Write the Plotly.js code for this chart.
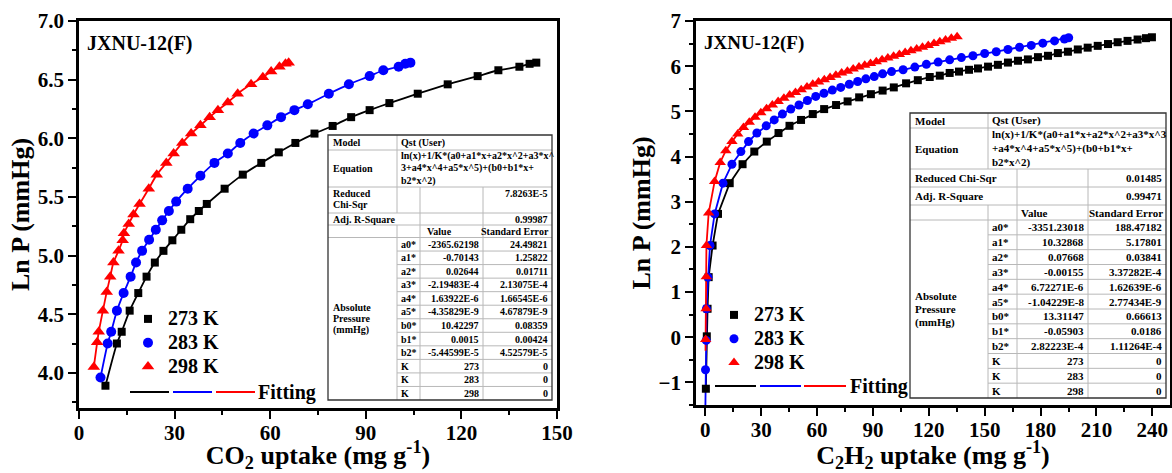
<!DOCTYPE html>
<html><head><meta charset="utf-8">
<script src="https://cdn.plot.ly/plotly-3.0.1.min.js"></script>
<style>html,body{margin:0;padding:0;background:#fff}</style>
</head><body><div id="chart" style="width:1172px;height:473px"></div>
<script>
const W = 1172, H = 473;
const FONT = 'Liberation Serif, Times New Roman, serif';

// ---------------- CO2 data (uptake mg/g, ln P) ----------------
const co2_273_x = [8.3,11.9,13.4,15.9,18.6,21.2,23.8,26.5,29.3,32.1,34.9,37.6,40.1,45.7,51.4,57.2,62.7,67.9,73.9,79.6,85.4,91.2,97.4,106.3,115.7,125.1,131.6,138.2,141.4,143.5];
const co2_273_y = [3.89,4.25,4.35,4.53,4.68,4.82,4.94,5.04,5.13,5.22,5.31,5.38,5.44,5.57,5.69,5.79,5.88,5.96,6.04,6.105,6.18,6.24,6.30,6.38,6.46,6.53,6.58,6.61,6.635,6.645];
const co2_283_x = [6.75,9.0,10.1,11.9,14.0,16.2,17.9,19.8,22.0,24.1,26.1,28.2,30.5,34.1,38.1,42.5,46.7,50.6,54.8,59.1,63.4,67.6,71.8,78.4,84.7,91.2,95.5,100.3,102.4,104.0];
const co2_283_y = [3.96,4.25,4.35,4.53,4.68,4.82,4.94,5.04,5.135,5.22,5.30,5.38,5.46,5.57,5.68,5.79,5.87,5.96,6.04,6.11,6.18,6.24,6.29,6.38,6.46,6.53,6.58,6.61,6.635,6.645];
const co2_298_x = [4.65,5.7,6.2,7.5,8.7,9.8,10.8,12.4,13.7,14.1,15.6,17.1,19.0,21.9,24.4,27.4,29.7,32.4,35.2,38.1,41.0,43.6,46.7,49.8,54.0,57.7,60.3,62.9,64.8,65.8];
const co2_298_y = [4.05,4.26,4.35,4.53,4.69,4.82,4.94,5.04,5.13,5.19,5.27,5.35,5.44,5.57,5.69,5.79,5.87,5.96,6.04,6.11,6.18,6.24,6.305,6.38,6.46,6.52,6.57,6.61,6.635,6.645];

// ---------------- C2H2 data ----------------
const c2h2_273_x = [0.3,0.8,1.2,1.8,3.9,6.8,13.1,20.0,26.3,33.0,39.3,45.2,51.4,57.7,63.8,70.2,76.4,82.6,88.9,95.2,101.2,107.8,114.1,120.5,125.9,131.2,136.2,141.6,146.4,151.8,157.1,162.5,167.9,173.2,178.6,184.0,189.3,194.7,200.0,205.3,210.7,216.2,221.4,226.7,232.1,236.6,239.8];
const c2h2_273_y = [-1.14,0.02,0.63,1.33,2.03,2.73,3.41,3.83,4.11,4.33,4.52,4.68,4.81,4.94,5.05,5.14,5.22,5.31,5.38,5.46,5.53,5.62,5.69,5.76,5.79,5.85,5.88,5.92,5.95,5.99,6.03,6.08,6.12,6.15,6.20,6.23,6.29,6.32,6.37,6.41,6.45,6.49,6.53,6.56,6.59,6.62,6.64];
const c2h2_283_x = [0.1,0.5,0.6,1.4,2.5,5.0,9.5,14.3,19.1,23.2,27.7,32.7,37.0,41.4,45.9,50.3,54.8,59.3,63.7,68.2,72.7,77.3,81.8,86.2,90.7,95.2,100.0,106.2,112.5,118.7,125.0,131.2,137.5,143.7,150.0,156.2,162.5,168.7,175.0,181.2,187.5,192.8,195.1];
const c2h2_283_y = [-0.72,-0.07,0.63,1.33,2.03,2.73,3.41,3.83,4.11,4.33,4.52,4.68,4.81,4.94,5.05,5.14,5.24,5.33,5.40,5.47,5.53,5.60,5.66,5.72,5.77,5.83,5.88,5.92,5.98,6.04,6.09,6.14,6.19,6.23,6.28,6.32,6.37,6.42,6.46,6.51,6.56,6.60,6.63];
const c2h2_298_x = [0.2,0.4,0.5,0.6,1.8,5.0,8.0,11.0,14.3,17.4,20.5,23.6,26.7,29.8,32.9,36.0,39.1,42.2,45.3,48.4,51.5,54.6,57.7,60.8,63.9,67.0,70.1,73.2,76.3,79.4,82.5,85.6,88.7,91.8,94.9,98.0,101.1,104.2,107.3,110.4,113.5,116.6,119.7,122.8,125.9,129.0,132.1,135.2];
const c2h2_298_y = [-0.05,0.63,1.34,2.03,2.75,3.45,3.87,4.13,4.33,4.50,4.64,4.76,4.87,4.97,5.06,5.14,5.22,5.29,5.36,5.42,5.48,5.54,5.60,5.65,5.70,5.75,5.80,5.85,5.89,5.94,5.98,6.02,6.06,6.10,6.14,6.18,6.22,6.26,6.30,6.34,6.38,6.42,6.46,6.50,6.54,6.58,6.62,6.65];
// fitted-curve start points (below first data point)
const c2h2_283_fitStart = [[0.05],[-1.5]];
const c2h2_298_fitStart = [[0.1],[-0.3]];

// ---------------- labels ----------------
const seriesNames = ['273 K','283 K','298 K'];
const seriesColors = ['#000000','#0000FF','#FF0000'];
const panelLabel = 'JXNU-12(F)';
const fitLabel = 'Fitting';

// ---------------- fit tables ----------------
const tableParams = ['a0*','a1*','a2*','a3*','a4*','a5*','b0*','b1*','b2*','K','K','K'];
const co2Values = ['-2365.62198','-0.70143','0.02644','-2.19483E-4','1.63922E-6','-4.35829E-9','10.42297','0.0015','-5.44599E-5','273','283','298'];
const co2Errors = ['24.49821','1.25822','0.01711','2.13075E-4','1.66545E-6','4.67879E-9','0.08359','0.00424','4.52579E-5','0','0','0'];
const co2Eq = ['ln(x)+1/K*(a0+a1*x+a2*x^2+a3*x^','3+a4*x^4+a5*x^5)+(b0+b1*x+','b2*x^2)'];
const co2Chi = '7.8263E-5', co2R2 = '0.99987';
const c2h2Values = ['-3351.23018','10.32868','0.07668','-0.00155','6.72271E-6','-1.04229E-8','13.31147','-0.05903','2.82223E-4','273','283','298'];
const c2h2Errors = ['188.47182','5.17801','0.03841','3.37282E-4','1.62639E-6','2.77434E-9','0.66613','0.0186','1.11264E-4','0','0','0'];
const c2h2Eq = ['ln(x)+1/K*(a0+a1*x+a2*x^2+a3*x^3','+a4*x^4+a5*x^5)+(b0+b1*x+','b2*x^2)'];
const c2h2Chi = '0.01485', c2h2R2 = '0.99471';

// ---------------- helpers ----------------
const px = x => x / W;
const py = y => 1 - y / H;
const shapes = [];
const annotations = [];
function hline(x0, x1, y, color, w) {
  shapes.push({type:'line', xref:'paper', yref:'paper', x0:px(x0), x1:px(x1), y0:py(y), y1:py(y), line:{color:color, width:w}});
}
function vline(x, y0, y1, color, w) {
  shapes.push({type:'line', xref:'paper', yref:'paper', x0:px(x), x1:px(x), y0:py(y0), y1:py(y1), line:{color:color, width:w}});
}
function txt(x, y, s, anchor, size) {
  annotations.push({xref:'paper', yref:'paper', x:px(x), y:py(y), text:s, showarrow:false,
    xanchor:anchor, yanchor:'middle', borderpad:0,
    font:{family:FONT, size:size, color:'#000', weight:'bold'}});
}

function buildTable(g, eq, chi, r2, vals, errs) {
  const inner = '#b8b8b8', outer = '#333', r = g.rows;
  const nData = tableParams.length;
  const rh = (g.bot - r[5]) / nData;
  shapes.push({type:'rect', xref:'paper', yref:'paper', x0:px(g.L), x1:px(g.R), y0:py(r[0]), y1:py(g.bot),
    fillcolor:'#fff', line:{width:0}});
  for (let i = 1; i <= 5; i++) hline(g.L, g.R, r[i], inner, 1);
  for (let i = 1; i < nData; i++) hline(g.C1, g.R, r[5] + i * rh, inner, 1);
  vline(g.C1, r[0], r[2], inner, 1);
  if (!g.chiMerged) vline(g.C1, r[2], r[3], inner, 1);
  vline(g.C1, r[4], g.bot, inner, 1);
  vline(g.C2, r[2], g.bot, inner, 1);
  vline(g.C3, r[2], g.bot, inner, 1);
  shapes.push({type:'rect', xref:'paper', yref:'paper', x0:px(g.L), x1:px(g.R), y0:py(r[0]), y1:py(g.bot),
    line:{color:outer, width:1.3}});
  const fs = g.fs, lx = g.L + 4, cx = g.C1 + 3;
  const mid = (a, b) => (a + b) / 2;
  txt(lx, mid(r[0], r[1]), 'Model', 'left', fs);
  txt(cx, mid(r[0], r[1]), 'Qst (User)', 'left', fs);
  txt(lx, mid(r[1], r[2]), 'Equation', 'left', fs);
  const eh = (r[2] - r[1]) / eq.length;
  eq.forEach((s, k) => txt(cx, r[1] + eh * (k + 0.5), s, 'left', fs));
  if (g.chiWrap) {
    txt(lx, r[2] + 6.5, 'Reduced', 'left', fs);
    txt(lx, r[2] + 17.5, 'Chi-Sqr', 'left', fs);
    txt(g.R - 3, r[2] + 6.5, chi, 'right', fs);
  } else {
    txt(lx, mid(r[2], r[3]), 'Reduced Chi-Sqr', 'left', fs);
    txt(g.R - 3, mid(r[2], r[3]), chi, 'right', fs);
  }
  txt(lx, mid(r[3], r[4]), 'Adj. R-Square', 'left', fs);
  txt(g.R - 3, mid(r[3], r[4]), r2, 'right', fs);
  txt(g.C2 + g.valPad, mid(r[4], r[5]), 'Value', 'left', fs);
  txt(g.R - 2, mid(r[4], r[5]), 'Standard Error', 'right', fs);
  for (let i = 0; i < nData; i++) {
    const y = r[5] + rh * (i + 0.5);
    txt(cx, y, tableParams[i], 'left', fs);
    txt(g.C3 - 3, y, vals[i], 'right', fs);
    txt(g.R - 3, y, errs[i], 'right', fs);
  }
  const cy = mid(r[5], g.bot);
  ['Absolute','Pressure','(mmHg)'].forEach((s, k) => txt(lx, cy + (k - 1) * g.absGap, s, 'left', fs));
}

buildTable({L:328, C1:397, C2:420, C3:483, R:552, rows:[135,150,187,213,225,237.5], bot:400, fs:10, chiWrap:true, chiMerged:false, valPad:6, absGap:11.7},
  co2Eq, co2Chi, co2R2, co2Values, co2Errors);
buildTable({L:910, C1:988, C2:1017, C3:1088, R:1166, rows:[113,128,169,187,205,220], bot:398, fs:11, chiWrap:false, chiMerged:true, valPad:3, absGap:13.5},
  c2h2Eq, c2h2Chi, c2h2R2, c2h2Values, c2h2Errors);

// panel labels
txt(86, 43, panelLabel, 'left', 20);
txt(703, 43, panelLabel, 'left', 19);

// "Fitting" legend rows
function fitRow(segs, y, tx) {
  segs.forEach((s, i) => hline(s[0], s[1], y, seriesColors[i], 2));
  txt(tx, y, fitLabel, 'left', 20);
}
fitRow([[130,169],[173,212],[216,255]], 392, 257);
fitRow([[715,756],[760,801],[804,846]], 386, 849);

// ---------------- traces ----------------
const traces = [];
const co2Sets = [[co2_273_x, co2_273_y], [co2_283_x, co2_283_y], [co2_298_x, co2_298_y]];
const c2Sets = [[c2h2_273_x, c2h2_273_y], [c2h2_283_x, c2h2_283_y], [c2h2_298_x, c2h2_298_y]];
const symbols = ['square','circle','triangle-up'];
const sizesL = [8, 10, 11], sizesR = [8, 9, 10];
const fitStarts = [[[],[]], c2h2_283_fitStart, c2h2_298_fitStart];

co2Sets.forEach((d, i) => {
  traces.push({x:d[0], y:d[1], xaxis:'x', yaxis:'y', mode:'lines', line:{color:seriesColors[i], width:1.8, shape:'spline', smoothing:0.6},
    showlegend:false, hoverinfo:'skip'});
});
co2Sets.forEach((d, i) => {
  traces.push({x:d[0], y:d[1], xaxis:'x', yaxis:'y', mode:'markers', name:'<span style="font-size:20px">' + seriesNames[i] + '</span>',
    marker:{symbol:symbols[i], size:sizesL[i], color:seriesColors[i]}, legend:'legend'});
});
c2Sets.forEach((d, i) => {
  traces.push({x:fitStarts[i][0].concat(d[0]), y:fitStarts[i][1].concat(d[1]), xaxis:'x2', yaxis:'y2', mode:'lines',
    line:{color:seriesColors[i], width:1.8}, showlegend:false, hoverinfo:'skip'});
});
c2Sets.forEach((d, i) => {
  traces.push({x:d[0], y:d[1], xaxis:'x2', yaxis:'y2', mode:'markers', name:'<span style="font-size:20px">' + seriesNames[i] + '</span>',
    marker:{symbol:symbols[i], size:sizesR[i], color:seriesColors[i]}, legend:'legend2'});
});

const tickFont = {family:FONT, size:21, color:'#000', weight:'bold'};
const titleFont = {family:FONT, size:26, color:'#000', weight:'bold'};
function axis(extra) {
  return Object.assign({
    showline:true, linecolor:'#000', linewidth:2.5, mirror:true, showgrid:false, zeroline:false,
    ticks:'outside', ticklen:8, tickwidth:2, tickcolor:'#000', tickfont:tickFont
  }, extra);
}
const minorX = {ticks:'outside', ticklen:4, tickwidth:2, tickcolor:'#000', dtick:15, showgrid:false};

const layout = {
  width:W, height:H, margin:{l:0, r:0, t:0, b:0}, paper_bgcolor:'#fff', plot_bgcolor:'#fff',
  showlegend:true,
  xaxis: axis({domain:[px(79), px(557)], range:[0,150], dtick:30, tick0:0, minor:minorX, ticklabelstandoff:-4,
    title:{text:'CO<sub>2</sub> uptake (mg g<sup>-1</sup>)', font:titleFont, standoff:9}, anchor:'y'}),
  yaxis: axis({domain:[py(408), py(21)], range:[3.7,7.0], dtick:0.5, tick0:0, tickformat:'.1f',
    minor:{ticks:'outside', ticklen:4, tickwidth:2, tickcolor:'#000', dtick:0.25, showgrid:false},
    title:{text:'Ln P (mmHg)', font:titleFont, standoff:1}, anchor:'x'}),
  xaxis2: axis({domain:[px(696), px(1170)], range:[-5,249.5], dtick:30, tick0:0, minor:minorX, ticklabelstandoff:-4,
    title:{text:'C<sub>2</sub>H<sub>2</sub> uptake (mg g<sup>-1</sup>)', font:titleFont, standoff:9}, anchor:'y2'}),
  yaxis2: axis({domain:[py(405), py(21)], range:[-1.5,7], dtick:1, tick0:0,
    minor:{ticks:'outside', ticklen:4, tickwidth:2, tickcolor:'#000', dtick:0.5, showgrid:false},
    title:{text:'Ln P (mmHg)', font:titleFont, standoff:1}, anchor:'x2'}),
  legend:{x:px(128), y:py(302), xanchor:'left', yanchor:'top', bgcolor:'rgba(0,0,0,0)', borderwidth:0,
    font:{family:FONT, size:16, color:'#000', weight:'bold'}},
  legend2:{x:px(714), y:py(298), xanchor:'left', yanchor:'top', bgcolor:'rgba(0,0,0,0)', borderwidth:0,
    font:{family:FONT, size:16, color:'#000', weight:'bold'}},
  shapes:shapes, annotations:annotations
};

Plotly.newPlot('chart', traces, layout, {displayModeBar:false, responsive:false});
</script></body></html>
